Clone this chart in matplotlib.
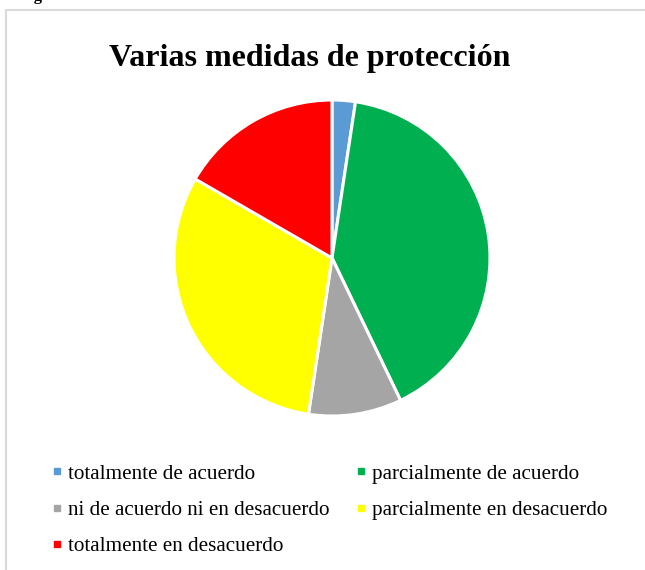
import matplotlib as mpl
mpl.use("Agg")
import matplotlib.pyplot as plt
from matplotlib.lines import Line2D
from matplotlib.patches import Rectangle

# data
labels = ["totalmente de acuerdo", "parcialmente de acuerdo",
          "ni de acuerdo ni en desacuerdo", "parcialmente en desacuerdo",
          "totalmente en desacuerdo"]
values = [1, 17, 4, 13, 7]
colors = ["#5B9BD5", "#00B050", "#A5A5A5", "#FFFF00", "#FF0000"]
title = "Varias medidas de protección"

plt.rcParams["font.family"] = ["Liberation Serif", "DejaVu Serif"]

W, H = 645, 570
fig = plt.figure(figsize=(W / 100, H / 100), dpi=100)

# chart border (light gray, left and top visible)
fig.patches.append(Rectangle((6 / W, -0.1), 1.2, (H - 10) / H + 0.1,
                             transform=fig.transFigure, fill=False,
                             edgecolor="#D9D9D9", linewidth=1.5))

# cut-off caption above the chart
fig.text(20 / W, 1 - 0.5 / H, "Figura", fontsize=12, fontweight="bold",
         va="baseline", ha="left")

# pie
cx, cy, r = 332, 258, 158
ax = fig.add_axes([(cx - r) / W, (H - cy - r) / H, 2 * r / W, 2 * r / H])
wedges, _ = ax.pie(values, colors=colors, startangle=90, counterclock=False,
                   wedgeprops=dict(edgecolor="white", linewidth=2.2))
ax.set_xlim(-1, 1)
ax.set_ylim(-1, 1)
ax.set_aspect("equal")
ax.axis("off")

fig.text(310 / W, 1 - 66 / H, title, fontsize=23, fontweight="bold",
         ha="center", va="baseline")

# legend, row-wise order across two columns
handles = [Line2D([], [], marker="s", linestyle="none", markersize=5,
                  markerfacecolor=c, markeredgecolor=c) for c in colors]
order = [0, 2, 4, 1, 3]
fig.legend([handles[i] for i in order], [labels[i] for i in order],
           ncol=2, loc="upper left", bbox_to_anchor=(52 / W, 1 - 464 / H),
           frameon=False, fontsize=15.2, handlelength=0.5, handletextpad=0.25,
           columnspacing=1.27, labelspacing=0.78, borderpad=0,
           borderaxespad=0)

plt.savefig("out.png", dpi=100)
